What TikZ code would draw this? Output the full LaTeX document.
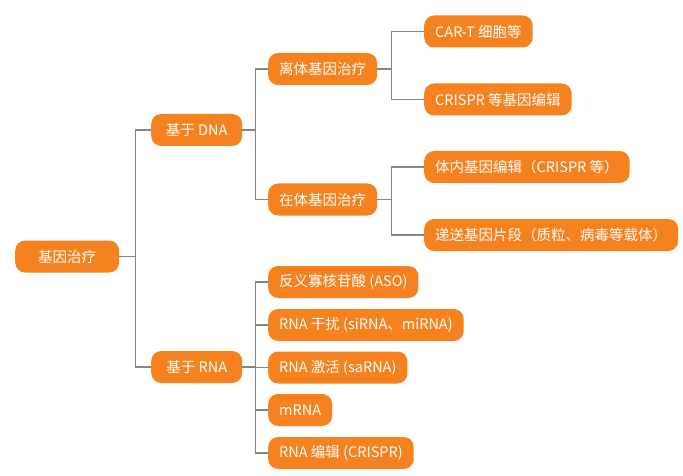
\documentclass[tikz,border=0pt]{standalone}
\usepackage{fontspec}
\setmainfont{Noto Sans CJK SC}
\definecolor{boxorange}{HTML}{F5821F}
\definecolor{linegray}{HTML}{858585}
\begin{document}
\begin{tikzpicture}[x=1pt,y=-1pt,
  mbox/.style={fill=boxorange,text=white,rounded corners=10pt,minimum height=32pt,inner xsep=11pt,inner ysep=0pt,anchor=west,font=\fontsize{14.5pt}{16pt}\selectfont},
  conn/.style={draw=linegray,line width=1.3pt}]
\useasboundingbox (0,0) rectangle (683,476);
\node[mbox,minimum width=104pt] (root) at (15,256.5) {基因治疗};
\node[mbox,minimum width=91pt] (dna) at (151,130) {基于 DNA};
\node[mbox,minimum width=91pt] (rna) at (151,367) {基于 RNA};
\node[mbox] (exv) at (268,69) {离体基因治疗};
\node[mbox] (inv) at (268,199.5) {在体基因治疗};
\node[mbox] (cart) at (424,31.5) {CAR-T 细胞等};
\node[mbox] (crispr) at (424,99.5) {CRISPR 等基因编辑};
\node[mbox] (invedit) at (424,167) {体内基因编辑（CRISPR 等）};
\node[mbox] (deliv) at (424,235) {递送基因片段（质粒、病毒等载体）};
\node[mbox] (aso) at (268,282) {反义寡核苷酸 (ASO)};
\node[mbox] (rnai) at (268,325) {RNA 干扰 (siRNA、miRNA)};
\node[mbox] (sarna) at (268,367.5) {RNA 激活 (saRNA)};
\node[mbox] (mrna) at (268,410) {mRNA};
\node[mbox] (rnaedit) at (268,453) {RNA 编辑 (CRISPR)};
\draw[conn] (root.east) -- ++(16,0) |- (dna.west);
\draw[conn] (root.east) -- ++(16,0) |- (rna.west);
\draw[conn] (dna.east) -- ++(13,0) |- (exv.west);
\draw[conn] (dna.east) -- ++(13,0) |- (inv.west);
\draw[conn] (exv.east) -- ++(14,0) |- (cart.west);
\draw[conn] (exv.east) -- ++(14,0) |- (crispr.west);
\draw[conn] (inv.east) -- ++(14,0) |- (invedit.west);
\draw[conn] (inv.east) -- ++(14,0) |- (deliv.west);
\foreach \c in {aso,rnai,sarna,mrna,rnaedit}
  \draw[conn] (rna.east) -- ++(13,0) |- (\c.west);
\end{tikzpicture}
\end{document}
